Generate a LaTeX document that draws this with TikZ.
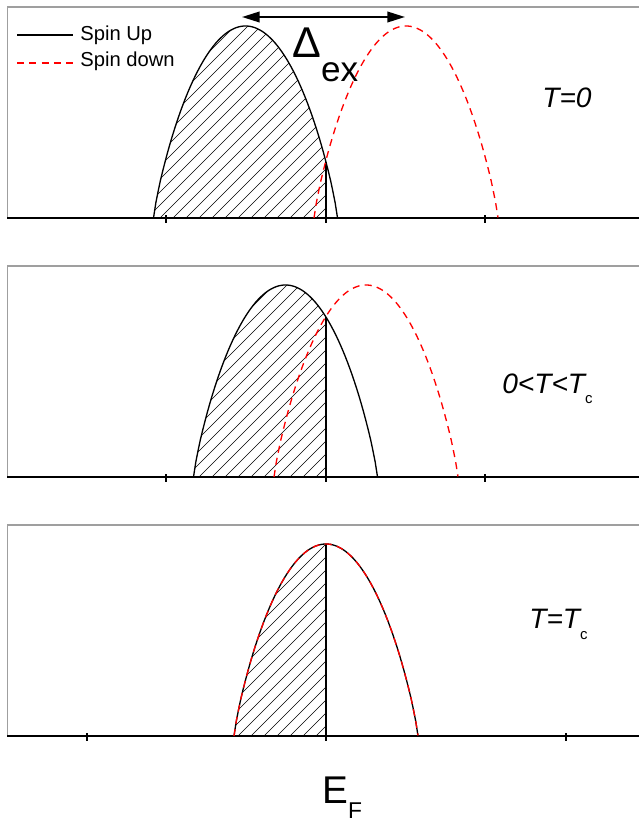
\documentclass[tikz,border=0pt]{standalone}
\usepackage{fontspec}
\setmainfont{Liberation Sans}
\usetikzlibrary{arrows.meta}

\begin{document}
\begin{tikzpicture}[x=0.02cm, y=-0.02cm,
  frameline/.style={line width=0.9pt, gray!75},
  sideline/.style={line width=0.5pt, gray!75},
  axisline/.style={line width=1.2pt},
  tick/.style={line width=0.6pt},
  spinup/.style={line width=0.75pt},
  spindown/.style={line width=0.75pt, red, dash pattern=on 4pt off 3pt},
  hatch/.style={line width=0.35pt},
  dexarrow/.style={line width=1.1pt, {Triangle[length=10pt,width=6pt]}-{Triangle[length=10pt,width=6pt]}},
  lbl/.style={inner sep=0pt, anchor=base west}]
  \useasboundingbox (0,0) rectangle (639,821);

  % --- band shape ---
  \def\hw{92}   % half width of a band
  \def\bh{192}  % height of a band
  \def\ef{326}  % Fermi level

  % --- the three panels: axis y / top y / up centre / down centre / ticks ---
  \foreach \ya/\yt/\xu/\xd/\tka/\tkb in {218/7/245.5/406/166/485,
                                          477/266/285.5/366/166/485,
                                          736/525/326/326/87/566} {
    % frame
    \draw[frameline] (7,\yt) -- (639,\yt);
    \draw[sideline] (7,\yt) -- (7,\ya);
    \draw[axisline] (7,\ya) -- (639,\ya);
    \foreach \t in {\tka,\ef,\tkb}
      \draw[tick] (\t,\ya-3) -- (\t,\ya+5);

    % filled part of spin up band
    \pgfmathsetmacro\uF{(\ef-\xu)/\hw}
    \pgfmathsetmacro\yF{\ya-\bh*max(1-\uF*\uF,0.0001)^0.85}
    \begin{scope}
      \clip plot[domain=-1:\uF, samples=60]
        ({\xu+\hw*\x}, {\ya-\bh*max(1-\x*\x,0.0001)^0.85}) -- (\ef,\ya) -- cycle;
      \foreach \k in {0,...,32}
        \draw[hatch] ({-61+13*\k},\ya) -- ++(200,-200);
    \end{scope}
    \draw[spinup] (\ef,\ya) -- (\ef,\yF);

    % bands
    \draw[spinup] plot[domain=-1:1, samples=81]
      ({\xu+\hw*\x}, {\ya-\bh*max(1-\x*\x,0.0001)^0.85});
    \draw[spindown] plot[domain=-1:1, samples=81]
      ({\xd+\hw*\x}, {\ya-\bh*max(1-\x*\x,0.0001)^0.85});
  }

  % --- legend ---
  \coordinate (upA) at (17,35);
  \coordinate (upB) at (73,35);
  \coordinate (downA) at (17,63);
  \coordinate (downB) at (73,63);
  \draw[spinup] (upA) -- (upB);
  \draw[spindown] (downA) -- (downB);
  \node[lbl, font=\fontsize{11.5}{13}\selectfont] (upLabel) at (80,41) {Spin Up};
  \node[lbl, font=\fontsize{11.5}{13}\selectfont] (downLabel) at (80,67) {Spin down};

  % --- exchange splitting ---
  \coordinate (exL) at (242,17);
  \coordinate (exR) at (405,17);
  \draw[dexarrow] (exL) -- (exR);
  \node[lbl] (dex) at (292,58)
    {\fontsize{24.5}{28}\selectfont Δ\raisebox{-13.6pt}{\fontsize{20}{24}\selectfont ex}};

  % --- temperatures ---
  \node[lbl, font=\fontsize{16}{19}\selectfont\itshape] (tzero) at (542,108) {T=0};
  \node[lbl, font=\fontsize{16}{19}\selectfont\itshape] (tmid) at (502,393)
    {0<T<T\raisebox{-5.7pt}{\upshape\fontsize{8.5}{10}\selectfont c}};
  \node[lbl, font=\fontsize{16}{19}\selectfont\itshape] (tcrit) at (529,628)
    {T=T\raisebox{-6.8pt}{\upshape\fontsize{8.5}{10}\selectfont c}};

  % --- Fermi level ---
  \node[lbl] (efLabel) at (322,803)
    {\fontsize{22}{26}\selectfont E\raisebox{-9pt}{\fontsize{13}{16}\selectfont F}};
\end{tikzpicture}
\end{document}
